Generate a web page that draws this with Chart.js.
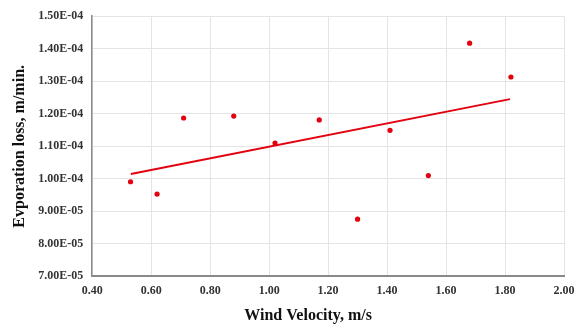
<!DOCTYPE html>
<html>
<head>
<meta charset="utf-8">
<script src="https://cdn.jsdelivr.net/npm/chart.js@4"></script>
<style>
  html, body { margin: 0; padding: 0; background: #fff; }
  #wrap { width: 575px; height: 325px; position: relative; }
</style>
</head>
<body>
<div id="wrap"><canvas id="chart"></canvas></div>
<script>
// Measured points (wind velocity m/s, evaporation loss m/min)
const windVelocity = [0.53, 0.62, 0.71, 0.88, 1.02, 1.17, 1.30, 1.41, 1.54, 1.68, 1.82];
const evapLoss = [9.91e-5, 9.53e-5, 1.187e-4, 1.193e-4, 1.110e-4, 1.181e-4, 8.76e-5, 1.149e-4, 1.010e-4, 1.417e-4, 1.313e-4];

// Linear trend line end points
const trendX = [0.531, 1.817];
const trendY = [1.015e-4, 1.245e-4];

const red = '#e3000f';
const serif = "'Liberation Serif', 'Times New Roman', serif";

function sci(v) {
    const [m, e] = v.toExponential(2).split('e');
    const n = parseInt(e, 10);
    const sign = n < 0 ? '-' : '+';
    return m + 'E' + sign + String(Math.abs(n)).padStart(2, '0');
}

const points = windVelocity.map((x, i) => ({ x, y: evapLoss[i] }));
const trend = trendX.map((x, i) => ({ x, y: trendY[i] }));

new Chart(document.getElementById('chart'), {
    type: 'scatter',
    data: {
        datasets: [
            {
                data: points,
                pointRadius: 2.6,
                pointBackgroundColor: red,
                pointBorderWidth: 0
            },
            {
                data: trend,
                showLine: true,
                borderColor: red,
                borderWidth: 2,
                pointRadius: 0
            }
        ]
    },
    options: {
        responsive: true,
        maintainAspectRatio: false,
        animation: false,
        layout: { padding: { top: 16, right: 11, left: 10, bottom: 0 } },
        plugins: { legend: { display: false }, tooltip: { enabled: false } },
        scales: {
            x: {
                type: 'linear',
                min: 0.4, max: 2.0,
                // let the last label run to the canvas edge like the original
                afterFit: scale => { scale.paddingRight = 0; },
                ticks: {
                    stepSize: 0.2,
                    color: '#333',
                    font: { family: serif, size: 12, weight: 'bold' },
                    padding: 7,
                    callback: v => v.toFixed(2)
                },
                grid: { color: '#e4e4e4', drawTicks: false },
                border: { color: '#8a8a8a', width: 2 },
                title: {
                    display: true,
                    // trailing spaces nudge the centred title left, as in the original
                    text: 'Wind Velocity, m/s' + '          ',
                    color: '#111',
                    font: { family: serif, size: 16, weight: 'bold' },
                    padding: { top: 1, bottom: 0 }
                }
            },
            y: {
                min: 7e-5, max: 1.5e-4,
                ticks: {
                    stepSize: 1e-5,
                    color: '#333',
                    font: { family: serif, size: 12, weight: 'bold' },
                    padding: 9,
                    callback: v => sci(v)
                },
                grid: { color: '#e4e4e4', drawTicks: false },
                border: { color: '#8a8a8a', width: 1.5 },
                title: {
                    display: true,
                    text: 'Evporation loss, m/min.',
                    color: '#111',
                    font: { family: serif, size: 16, weight: 'bold' },
                    padding: { top: 0, bottom: 0 }
                }
            }
        }
    }
});
</script>
</body>
</html>
